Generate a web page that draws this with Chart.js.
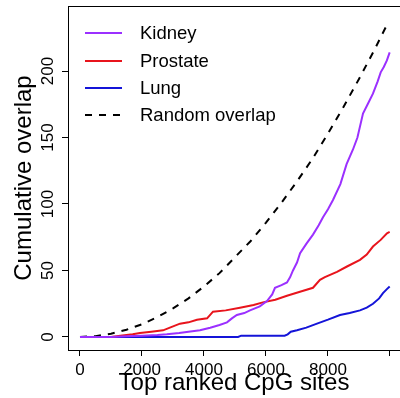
<!DOCTYPE html>
<html>
<head>
<meta charset="utf-8">
<script src="https://cdn.jsdelivr.net/npm/chart.js@4"></script>
<style>
  body { margin: 0; background: #fff; }
  canvas { display: block; }
</style>
</head>
<body>
<canvas id="overlapChart" width="400" height="398"></canvas>
<script>
// values
const kidneyX = [0, 1000, 1500, 2000, 2500, 2800, 3200, 3500, 3870, 4200, 4500, 4742, 4900, 5060, 5300, 5484, 5800, 6032, 6200, 6290, 6500, 6677, 6780, 6871, 7000, 7100, 7300, 7516, 7700, 7839, 8000, 8161, 8400, 8600, 8806, 8950, 9129, 9300, 9450, 9600, 9700, 9800, 9900, 9990];
const kidneyY = [0, 0, 0.5, 1, 1.5, 2, 3, 4, 5, 7, 9, 11, 14, 16.5, 18, 20, 23, 27, 32, 37, 39, 41, 45, 50, 56, 63, 70, 77, 84, 90, 96, 103, 115, 130, 141, 150, 168, 176, 183, 192, 199, 203, 208, 214];

const prostateX = [0, 1000, 1300, 1700, 1935, 2300, 2680, 2900, 3225, 3500, 3774, 4100, 4290, 4700, 5161, 5600, 5900, 6300, 6677, 7097, 7516, 7742, 7900, 8290, 8613, 9032, 9250, 9451, 9700, 9903, 9990];
const prostateY = [0, 0, 1, 2, 3, 4, 5, 7, 10, 11, 13, 14, 19, 20, 22, 24, 26, 28, 31, 34, 37, 43, 45, 49, 53, 58, 62, 68, 73, 78, 79];

const lungX = [0, 5100, 5200, 6600, 6700, 6800, 7000, 7300, 7645, 8000, 8387, 8700, 9032, 9250, 9451, 9650, 9774, 9900, 9990];
const lungY = [0, 0, 1, 1, 2, 4, 5, 7, 10, 13, 16.5, 18, 20, 22, 25, 29, 33, 36, 38];

const randomX = [0, 500, 1000, 1500, 2000, 2500, 3000, 3500, 4000, 4500, 5000, 5500, 6000, 6500, 7000, 7500, 8000, 8500, 9000, 9500, 9950];
const randomY = [0, 0.6, 2.4, 5.4, 9.6, 15, 21.5, 29, 38, 48, 60, 72, 86, 101, 117, 134, 153, 173, 194, 216, 237];

const xTicks = [0, 2000, 4000, 6000, 8000, 10000];
const xTickLabels = ["0", "2000", "4000", "6000", "8000", ""];
const yTicks = [0, 50, 100, 150, 200];

const FONT = "'Liberation Sans', Arial, Helvetica, sans-serif";
Chart.defaults.font.family = FONT;
Chart.defaults.color = "#000";

function toPoints(xs, ys) {
  return xs.map((x, i) => ({ x: x, y: ys[i] }));
}

function series(label, xs, ys, color, dash) {
  return {
    label: label,
    data: toPoints(xs, ys),
    borderColor: color,
    backgroundColor: color,
    borderWidth: 2,
    borderDash: dash || [],
    pointRadius: 0,
    tension: 0,
    fill: false
  };
}

// R-style frame line along the top of the plot box
const framePlugin = {
  id: "frame",
  afterDraw(chart) {
    const { ctx, chartArea } = chart;
    ctx.save();
    ctx.strokeStyle = "#000";
    ctx.lineWidth = 1;
    ctx.beginPath();
    ctx.moveTo(chartArea.left, chartArea.top + 0.5);
    ctx.lineTo(chartArea.right, chartArea.top + 0.5);
    ctx.stroke();
    ctx.restore();
  }
};

// y tick labels turned to read upwards, as R draws them
const yLabelPlugin = {
  id: "yLabels",
  afterDraw(chart) {
    const ctx = chart.ctx;
    const scale = chart.scales.y;
    ctx.save();
    ctx.font = "17px " + FONT;
    ctx.fillStyle = "#000";
    ctx.textAlign = "center";
    ctx.textBaseline = "middle";
    scale.ticks.forEach((t) => {
      ctx.save();
      ctx.translate(48, scale.getPixelForValue(t.value));
      ctx.rotate(-Math.PI / 2);
      ctx.fillText(String(t.value), 0, 0);
      ctx.restore();
    });
    ctx.restore();
  }
};

// legend drawn inside the plot, top left
const legendPlugin = {
  id: "insideLegend",
  afterDraw(chart) {
    const ctx = chart.ctx;
    const rows = [33, 61, 88, 115];
    ctx.save();
    ctx.font = "18.5px " + FONT;
    ctx.textBaseline = "middle";
    ctx.fillStyle = "#000";
    chart.data.datasets.forEach((ds, i) => {
      const y = rows[i];
      ctx.strokeStyle = ds.borderColor;
      ctx.lineWidth = 2;
      ctx.setLineDash(ds.borderDash);
      ctx.beginPath();
      ctx.moveTo(85, y);
      ctx.lineTo(122, y);
      ctx.stroke();
      ctx.fillText(ds.label, 140, y + 1);
    });
    ctx.restore();
  }
};

new Chart(document.getElementById("overlapChart"), {
  type: "line",
  data: {
    datasets: [
      series("Kidney", kidneyX, kidneyY, "#9b30ff"),
      series("Prostate", prostateX, prostateY, "#e8141c"),
      series("Lung", lungX, lungY, "#1414d8"),
      series("Random overlap", randomX, randomY, "#000", [7, 7])
    ]
  },
  options: {
    responsive: false,
    animation: false,
    layout: { padding: { top: 6, right: 0, left: 0, bottom: 0 } },
    plugins: {
      legend: { display: false },
      tooltip: { enabled: false }
    },
    scales: {
      x: {
        type: "linear",
        min: -387,
        max: 10323,
        afterBuildTicks: (scale) => { scale.ticks = xTicks.map((v) => ({ value: v })); },
        afterFit: (scale) => { scale.height = 48; },
        border: { display: true, color: "#000", width: 1 },
        grid: { drawOnChartArea: false, drawTicks: true, tickLength: 6, color: "#000" },
        ticks: {
          autoSkip: false,
          maxRotation: 0,
          padding: 4,
          font: { size: 17 },
          callback: (v) => xTickLabels[xTicks.indexOf(v)]
        },
        title: {
          display: true,
          text: "Top ranked CpG sites",
          font: { size: 24 },
          padding: { top: 0, bottom: 0 }
        }
      },
      y: {
        type: "linear",
        min: -9.8,
        max: 248.9,
        afterBuildTicks: (scale) => { scale.ticks = yTicks.map((v) => ({ value: v })); },
        afterFit: (scale) => { scale.width = 68; },
        border: { display: true, color: "#000", width: 1 },
        grid: { drawOnChartArea: false, drawTicks: true, tickLength: 6, color: "#000" },
        ticks: { display: false },
        title: {
          display: true,
          text: "Cumulative overlap",
          font: { size: 24 },
          padding: { top: 10, bottom: 0 }
        }
      }
    }
  },
  plugins: [framePlugin, yLabelPlugin, legendPlugin]
});
</script>
</body>
</html>
